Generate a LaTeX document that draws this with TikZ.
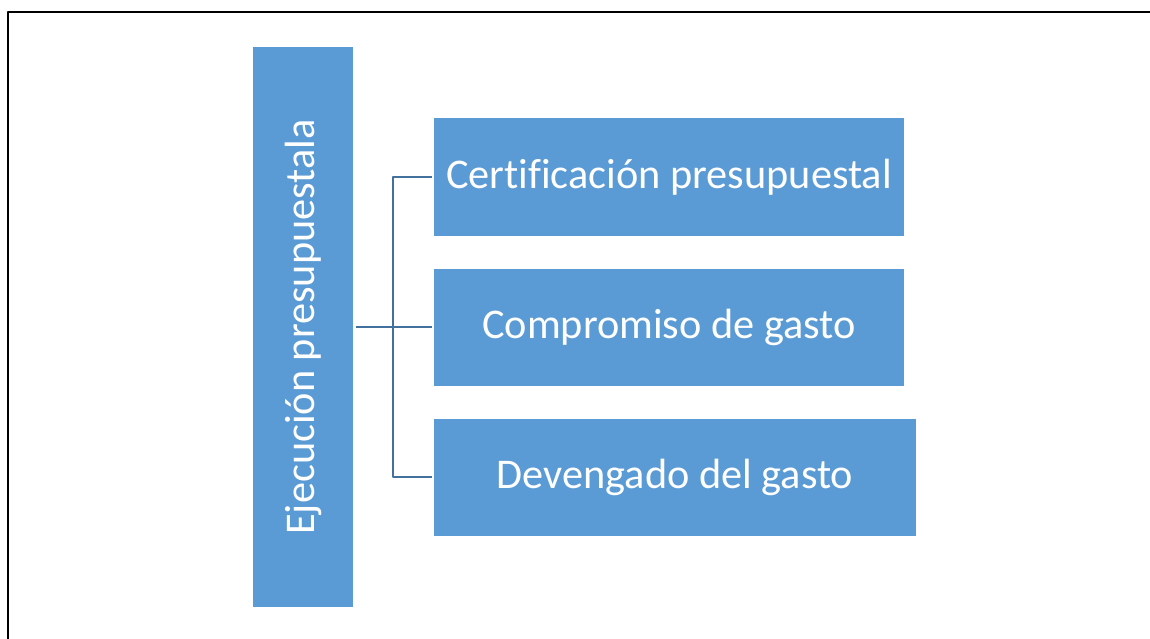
\documentclass[tikz,border=0pt]{standalone}
\usepackage{fontspec}
\setmainfont[Ligatures=NoCommon]{Carlito}
\usetikzlibrary{positioning}
\definecolor{boxblue}{HTML}{5B9BD5}
\definecolor{linkblue}{HTML}{41719C}
\tikzset{
  stagebox/.style={fill=boxblue,draw=none,text=white,inner sep=0pt,
    font=\fontsize{42.3}{50}\selectfont},
  link/.style={draw=linkblue,line width=2.2pt},
}

\begin{document}
\begin{tikzpicture}[x=1pt,y=-1pt,line join=bevel]
\useasboundingbox (0,0) rectangle (1150,639);
%%
\draw [black,line width=2.5pt] (8,639) -- (8,12) -- (1150,12);
\node (node_0) at (303,327) [stagebox,minimum width=100pt,minimum height=560pt] {};
\node at (node_0.center) [stagebox,rotate=90] {Ejecución presupuestala};
  \node (node_1) at (669,177) [stagebox,minimum width=470pt,minimum height=117pt] {Certificación presupuestal};
  \node (node_2) at (669,327) [stagebox,minimum width=470pt,minimum height=117pt] {Compromiso de gasto};
  \node (node_3) at (675,477) [stagebox,minimum width=482pt,minimum height=117pt] {Devengado del gasto};
\coordinate (fork) at (393,327);
  \draw [link,shorten <=3pt,shorten >=2pt] (node_0.east) -- (node_2.west);
  \draw [link,shorten <=2pt,shorten >=2pt] (node_1.west) -| (fork) |- (node_3.west);
%
\end{tikzpicture}
\end{document}
